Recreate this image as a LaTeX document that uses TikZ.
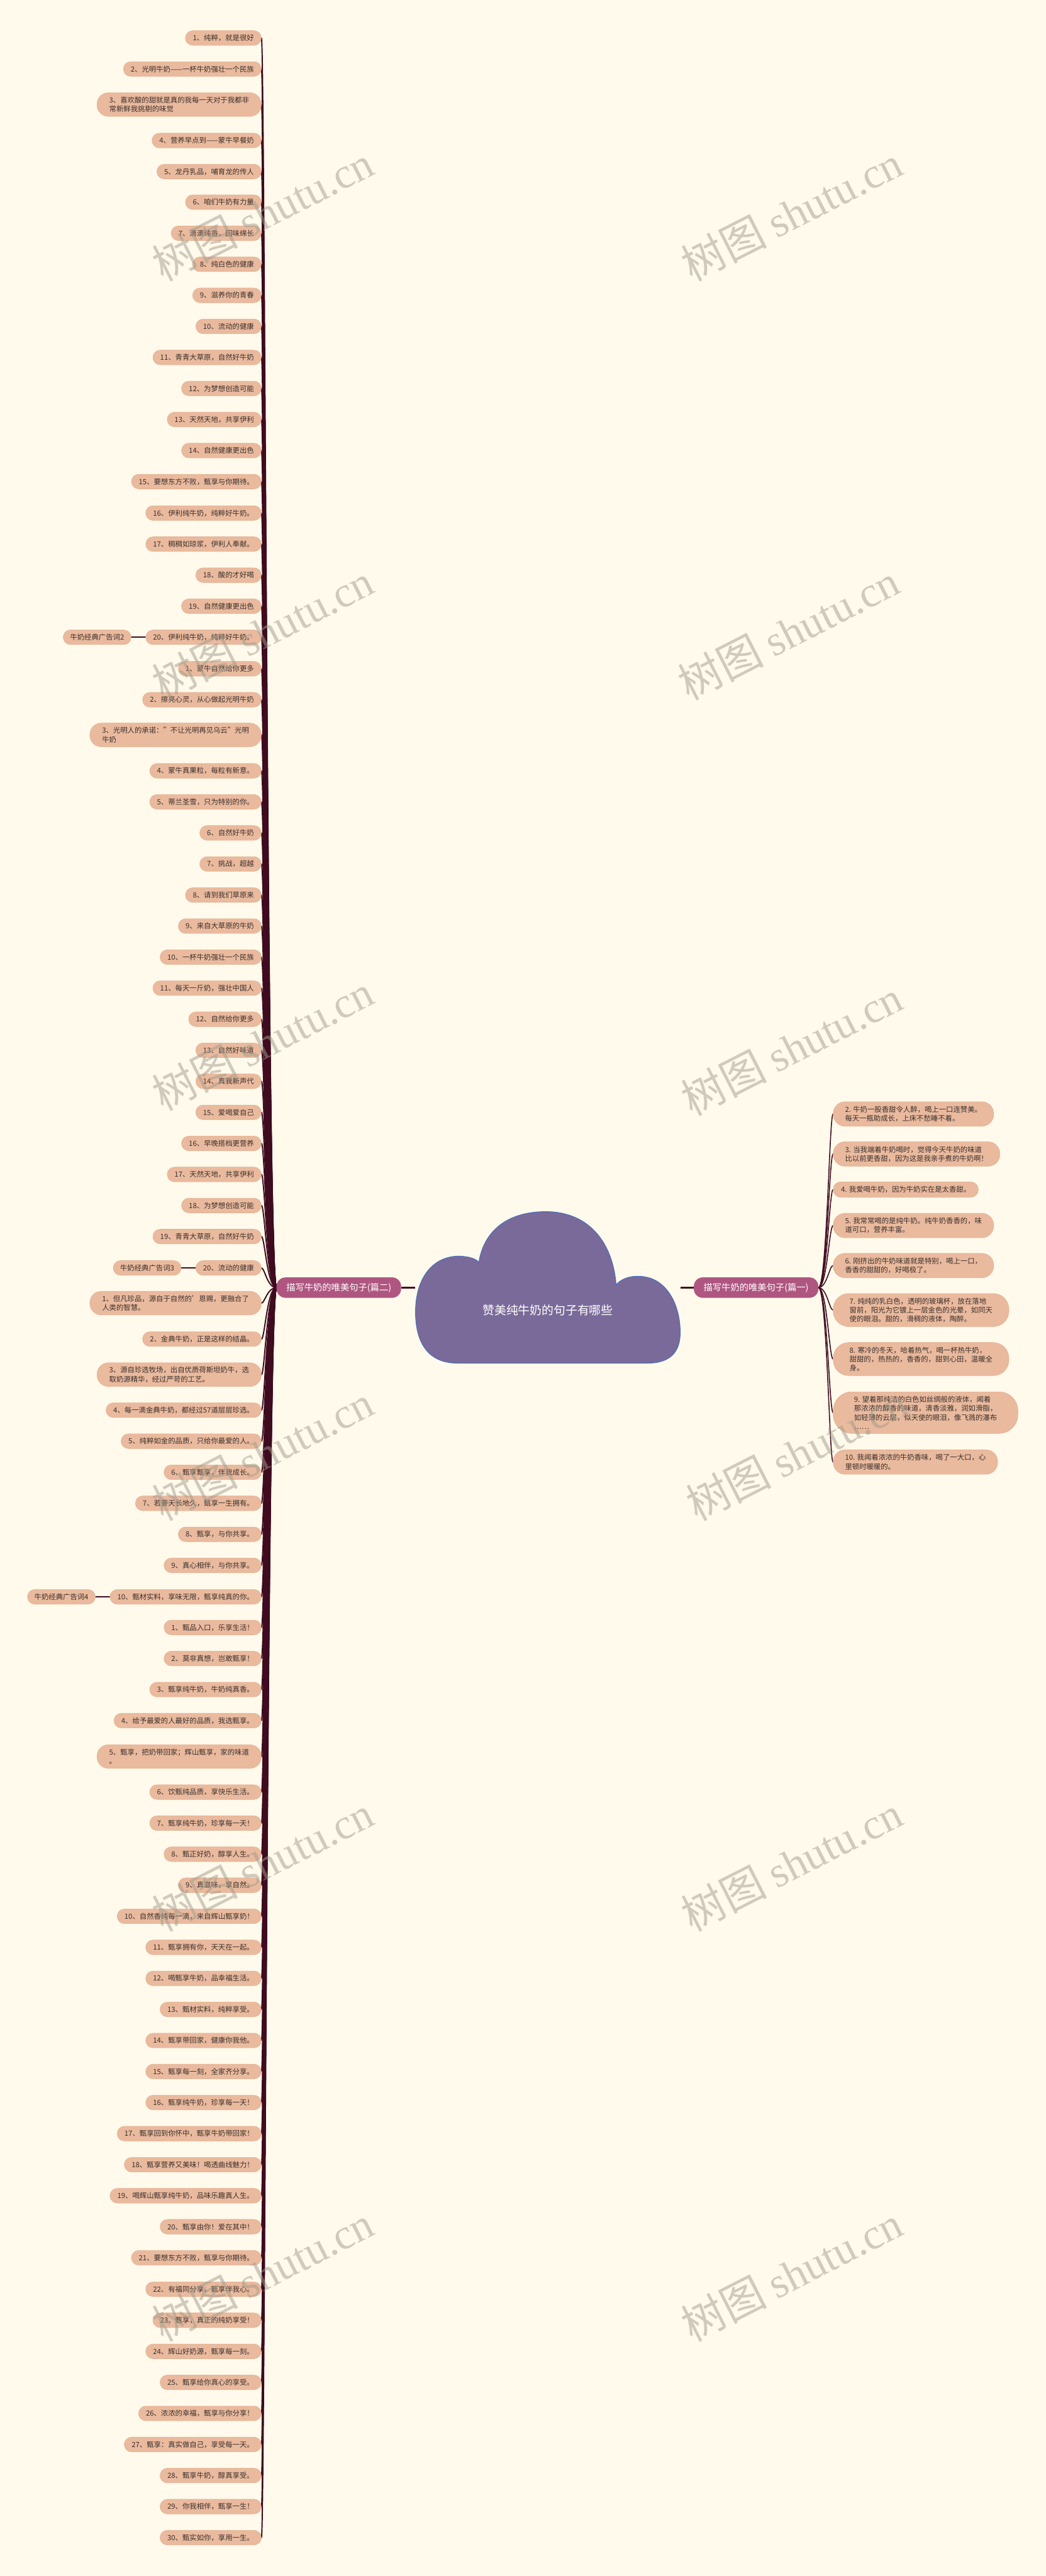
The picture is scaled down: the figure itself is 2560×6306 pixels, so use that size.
\documentclass[tikz,border=0pt]{standalone}
\usepackage{fontspec}
\setmainfont{Noto Sans CJK SC}
\newfontfamily\wmfont{Liberation Serif}
\usetikzlibrary{backgrounds}
\definecolor{bgc}{HTML}{FFFAEB}
\definecolor{leafc}{HTML}{EABA9E}
\definecolor{leafb}{HTML}{E3AE90}
\definecolor{txt}{HTML}{3A302C}
\definecolor{brc}{HTML}{AF5680}
\definecolor{cloudc}{HTML}{7A6A99}
\definecolor{cloudb}{HTML}{4470C0}
\definecolor{linec}{HTML}{3E0B1F}
\definecolor{wmc}{HTML}{A09C8C}
\begin{document}
\begin{tikzpicture}[x=1pt,y=-1pt,
 leaf/.style={fill=leafc, draw=leafb, line width=0.8pt, rounded corners=18pt, minimum height=36pt, inner xsep=18pt, inner ysep=3pt, text=txt, font=\fontsize{17.5}{22}\selectfont, align=left, anchor=east},
 leaftwo/.style={leaf, rounded corners=28pt, inner xsep=30pt, minimum height=58pt},
 rleaf/.style={leaf, anchor=west, inner xsep=19pt, minimum height=38pt, rounded corners=19pt},
 rleaftwo/.style={rleaf, inner xsep=29pt, minimum height=60pt, rounded corners=29pt},
 rleafthree/.style={rleaf, inner xsep=40pt, minimum height=81pt, rounded corners=38pt},
 rleaffour/.style={rleaf, inner xsep=51pt, minimum height=102pt, rounded corners=46pt},
 branch/.style={fill=brc, draw=none, rounded corners=22pt, minimum height=50pt, inner xsep=24pt, text=white, font=\fontsize{22}{26}\selectfont},
 sub/.style={leaf, inner xsep=17pt},
 conn/.style={draw=linec, line width=2.4pt, line cap=round},
 wm/.style={rotate=27, text=wmc, opacity=0.5, font=\fontsize{105}{105}\selectfont}
]
\useasboundingbox (0,0) rectangle (2560,6306);
\begin{scope}[on background layer]
\fill[bgc] (0,0) rectangle (2560,6306);
\end{scope}

% cloud
\fill[cloudc, draw=cloudb, line width=1.5pt] (1017,3215)
 .. controls (1016,3125) and (1062,3074) .. (1125,3075)
 .. controls (1150,3076) and (1166,3082) .. (1172,3090)
 .. controls (1185,3010) and (1245,2966) .. (1336,2966)
 .. controls (1440,2966) and (1500,3040) .. (1508,3145)
 .. controls (1525,3125) and (1560,3118) .. (1595,3130)
 .. controls (1645,3150) and (1665,3210) .. (1665,3262)
 .. controls (1665,3310) and (1640,3337) .. (1585,3337)
 -- (1120,3337)
 .. controls (1050,3337) and (1018,3290) .. (1017,3215) -- cycle;
\node[minimum width=648pt, minimum height=370pt, inner sep=0pt] (center) at (1341,3152) {};
\node[text=white, font=\fontsize{29}{34}\selectfont] (ctitle) at (1341,3208) {赞美纯牛奶的句子有哪些};

\node[branch, anchor=east] (lb) at (982,3152) {描写牛奶的唯美句子(篇二)};
\node[branch, anchor=west] (rb) at (1698,3152) {描写牛奶的唯美句子(篇一)};

\coordinate (cxL) at (648,0);
\coordinate (cxR) at (2030,0);

% left leaves
\node[leaf] (l1) at (640,93) {1、纯粹，就是很好};
\node[leaf] (l2) at (640,169) {2、光明牛奶——一杯牛奶强壮一个民族};
\node[leaftwo] (l3) at (640,256) {3、喜欢酸的甜就是真的我每一天对于我都非\\常新鲜我挑剔的味觉};
\node[leaf] (l4) at (640,344) {4、营养早点到——蒙牛早餐奶};
\node[leaf] (l5) at (640,420) {5、龙丹乳品，哺育龙的传人};
\node[leaf] (l6) at (640,495) {6、咱们牛奶有力量};
\node[leaf] (l7) at (640,571) {7、滴滴纯香，回味绵长};
\node[leaf] (l8) at (640,647) {8、纯白色的健康};
\node[leaf] (l9) at (640,723) {9、滋养你的青春};
\node[leaf] (l10) at (640,799) {10、流动的健康};
\node[leaf] (l11) at (640,875) {11、青青大草原，自然好牛奶};
\node[leaf] (l12) at (640,951) {12、为梦想创造可能};
\node[leaf] (l13) at (640,1027) {13、天然天地，共享伊利};
\node[leaf] (l14) at (640,1103) {14、自然健康更出色};
\node[leaf] (l15) at (640,1179) {15、要想东方不败，甄享与你期待。};
\node[leaf] (l16) at (640,1256) {16、伊利纯牛奶，纯粹好牛奶。};
\node[leaf] (l17) at (640,1332) {17、稠稠如琼浆，伊利人奉献。};
\node[leaf] (l18) at (640,1408) {18、酸的才好喝};
\node[leaf] (l19) at (640,1484) {19、自然健康更出色};
\node[leaf] (l20) at (640,1560) {20、伊利纯牛奶，纯粹好牛奶。};
\node[leaf] (l21) at (640,1637) {1、蒙牛自然给你更多};
\node[leaf] (l22) at (640,1713) {2、擦亮心灵，从心做起光明牛奶};
\node[leaftwo] (l23) at (640,1799) {3、光明人的承诺："不让光明再见乌云"光明\\牛奶};
\node[leaf] (l24) at (640,1887) {4、蒙牛真果粒，每粒有新意。};
\node[leaf] (l25) at (640,1963) {5、蒂兰圣雪，只为特别的你。};
\node[leaf] (l26) at (640,2039) {6、自然好牛奶};
\node[leaf] (l27) at (640,2115) {7、挑战，超越};
\node[leaf] (l28) at (640,2191) {8、请到我们草原来};
\node[leaf] (l29) at (640,2267) {9、来自大草原的牛奶};
\node[leaf] (l30) at (640,2343) {10、一杯牛奶强壮一个民族};
\node[leaf] (l31) at (640,2419) {11、每天一斤奶，强壮中国人};
\node[leaf] (l32) at (640,2495) {12、自然给你更多};
\node[leaf] (l33) at (640,2571) {13、自然好味道};
\node[leaf] (l34) at (640,2647) {14、真我新声代};
\node[leaf] (l35) at (640,2723) {15、爱喝爱自己};
\node[leaf] (l36) at (640,2799) {16、早晚搭档更营养};
\node[leaf] (l37) at (640,2875) {17、天然天地，共享伊利};
\node[leaf] (l38) at (640,2951) {18、为梦想创造可能};
\node[leaf] (l39) at (640,3027) {19、青青大草原，自然好牛奶};
\node[leaf] (l40) at (640,3104) {20、流动的健康};
\node[leaftwo] (l41) at (640,3190) {1、但凡珍品，源自于自然的'恩赐，更融合了\\人类的智慧。};
\node[leaf] (l42) at (640,3278) {2、金典牛奶，正是这样的结晶。};
\node[leaftwo] (l43) at (640,3365) {3、源自珍选牧场，出自优质荷斯坦奶牛，选\\取奶源精华，经过严苛的工艺。};
\node[leaf] (l44) at (640,3452) {4、每一滴金典牛奶，都经过57道层层珍选。};
\node[leaf] (l45) at (640,3528) {5、纯粹如金的品质，只给你最爱的人。};
\node[leaf] (l46) at (640,3604) {6、甄享甄享，伴我成长。};
\node[leaf] (l47) at (640,3680) {7、若要天长地久，甄享一生拥有。};
\node[leaf] (l48) at (640,3756) {8、甄享，与你共享。};
\node[leaf] (l49) at (640,3832) {9、真心相伴，与你共享。};
\node[leaf] (l50) at (640,3909) {10、甄材实料，享味无限，甄享纯真的你。};
\node[leaf] (l51) at (640,3984) {1、甄品入口，乐享生活！};
\node[leaf] (l52) at (640,4060) {2、莫非真想，岂敢甄享！};
\node[leaf] (l53) at (640,4136) {3、甄享纯牛奶，牛奶纯真香。};
\node[leaf] (l54) at (640,4212) {4、给予最爱的人最好的品质，我选甄享。};
\node[leaftwo] (l55) at (640,4300) {5、甄享，把奶带回家；辉山甄享，家的味道\\。};
\node[leaf] (l56) at (640,4387) {6、饮甄纯品质，享快乐生活。};
\node[leaf] (l57) at (640,4463) {7、甄享纯牛奶，珍享每一天！};
\node[leaf] (l58) at (640,4539) {8、甄正好奶，醇享人生。};
\node[leaf] (l59) at (640,4615) {9、真滋味，享自然。};
\node[leaf] (l60) at (640,4691) {10、自然香纯每一滴，来自辉山甄享奶！};
\node[leaf] (l61) at (640,4767) {11、甄享拥有你，天天在一起。};
\node[leaf] (l62) at (640,4843) {12、喝甄享牛奶，品幸福生活。};
\node[leaf] (l63) at (640,4919) {13、甄材实料，纯粹享受。};
\node[leaf] (l64) at (640,4995) {14、甄享带回家，健康你我他。};
\node[leaf] (l65) at (640,5071) {15、甄享每一刻，全家齐分享。};
\node[leaf] (l66) at (640,5147) {16、甄享纯牛奶，珍享每一天！};
\node[leaf] (l67) at (640,5223) {17、甄享回到你怀中，甄享牛奶带回家！};
\node[leaf] (l68) at (640,5299) {18、甄享营养又美味！喝透曲线魅力！};
\node[leaf] (l69) at (640,5375) {19、喝辉山甄享纯牛奶，品味乐趣真人生。};
\node[leaf] (l70) at (640,5451) {20、甄享由你！爱在其中！};
\node[leaf] (l71) at (640,5527) {21、要想东方不败，甄享与你期待。};
\node[leaf] (l72) at (640,5604) {22、有福同分享，甄享伴我心。};
\node[leaf] (l73) at (640,5680) {23、甄享，真正的纯奶享受！};
\node[leaf] (l74) at (640,5756) {24、辉山好奶源，甄享每一刻。};
\node[leaf] (l75) at (640,5832) {25、甄享给你真心的享受。};
\node[leaf] (l76) at (640,5908) {26、浓浓的幸福，甄享与你分享！};
\node[leaf] (l77) at (640,5984) {27、甄享：真实做自己，享受每一天。};
\node[leaf] (l78) at (640,6060) {28、甄享牛奶，醇真享受。};
\node[leaf] (l79) at (640,6136) {29、你我相伴，甄享一生！};
\node[leaf] (l80) at (640,6212) {30、甄实如你，享用一生。};

% secondary
\node[sub] (s2) at ([xshift=-35pt]l20.west) {牛奶经典广告词2};
\node[sub] (s3) at ([xshift=-35pt]l40.west) {牛奶经典广告词3};
\node[sub] (s4) at ([xshift=-35pt]l50.west) {牛奶经典广告词4};

% right leaves
\node[rleaftwo] (r2) at (2039,2727) {2. 牛奶一股香甜令人醉，喝上一口连赞美。\\每天一瓶助成长，上床不愁睡不着。};
\node[rleaftwo] (r3) at (2039,2825) {3. 当我端着牛奶喝时，觉得今天牛奶的味道\\比以前更香甜，因为这是我亲手煮的牛奶啊！};
\node[rleaf] (r4) at (2039,2912) {4. 我爱喝牛奶，因为牛奶实在是太香甜。};
\node[rleaftwo] (r5) at (2039,3000) {5. 我常常喝的是纯牛奶。纯牛奶香香的，味\\道可口，营养丰富。};
\node[rleaftwo] (r6) at (2039,3098) {6. 刚挤出的牛奶味道就是特别，喝上一口，\\香香的甜甜的，好喝极了。};
\node[rleafthree] (r7) at (2039,3207) {7. 纯纯的乳白色，透明的玻璃杯，放在落地\\窗前，阳光为它镀上一层金色的光晕，如同天\\使的眼泪。甜的，滑稠的液体，陶醉。};
\node[rleafthree] (r8) at (2039,3327) {8. 寒冷的冬天，哈着热气，喝一杯热牛奶，\\甜甜的，热热的，香香的，甜到心田，温暖全\\身。};
\node[rleaffour] (r9) at (2039,3458) {9. 望着那纯洁的白色如丝绸般的液体，闻着\\那浓浓的醇香的味道，清香淡雅，润如滑脂，\\如轻薄的云层，似天使的眼泪，像飞溅的瀑布\\……};
\node[rleaftwo] (r10) at (2039,3579) {10. 我闻着浓浓的牛奶香味，喝了一大口，心\\里顿时暖暖的。};

% connectors
\begin{scope}[on background layer]
\foreach \i in {1,...,80} {
  \draw[conn, line width=3pt] (lb.west) .. controls (654,3152) and (l\i.east -| cxL) .. (l\i.east);
}
\foreach \i in {2,...,10} {
  \draw[conn] (rb.east) .. controls (2024,3152) and (r\i.west -| cxR) .. (r\i.west);
}
\draw[conn, line width=3pt] (s2.east) -- (l20.west);
\draw[conn, line width=3pt] (s3.east) -- (l40.west);
\draw[conn, line width=3pt] (s4.east) -- (l50.west);
\draw[conn, line width=4pt, line cap=butt] (lb.east) -- (center.west);
\draw[conn, line width=4pt, line cap=butt] (center.east) -- (rb.west);
\end{scope}

% watermarks
\foreach \n/\x/\y in {1/643/522, 2/1937/522, 3/643/1547, 4/1930/1547, 5/643/2552, 6/1937/2565, 7/643/3557, 8/1949/3557, 9/643/4562, 10/1937/4562, 11/643/5566, 12/1937/5566} {
  \node[wm] (w\n) at (\x,\y) {树图 {\wmfont shutu.cn}};
}
\end{tikzpicture}
\end{document}
